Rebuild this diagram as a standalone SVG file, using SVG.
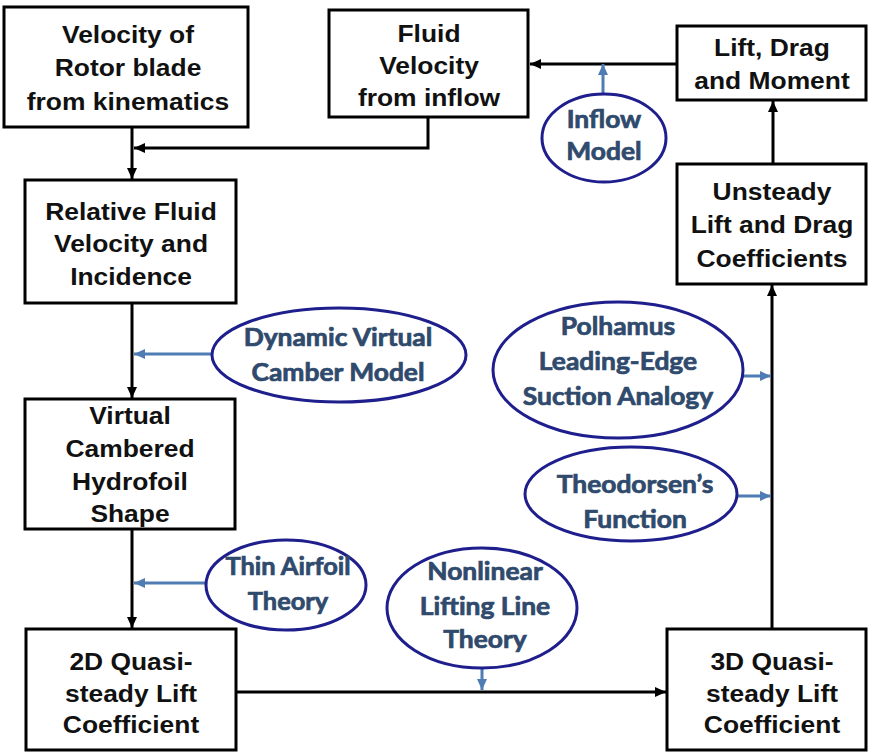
<svg xmlns="http://www.w3.org/2000/svg" width="870" height="753" viewBox="0 0 870 753">
<style>
.box{fill:#fff;stroke:#000;stroke-width:3}
.ell{fill:#fff;stroke:#1e1e8c;stroke-width:3}
.t{font-family:"Liberation Sans",Arial,sans-serif;font-weight:bold;font-size:24px;fill:#111;text-anchor:middle}
.b{font-family:Lato,"Open Sans",sans-serif;font-weight:bold;font-size:24px;fill:#2f4a6c;stroke:#2f4a6c;stroke-width:0.7;text-anchor:middle}
.k{fill:none;stroke:#000;stroke-width:3}
.u{fill:none;stroke:#4f7db3;stroke-width:3}
</style>
<defs>
<marker id="ak" markerUnits="userSpaceOnUse" markerWidth="12" markerHeight="12" viewBox="0 0 12 12" refX="11" refY="6" orient="auto"><path d="M0,1 L11,6 L0,11 z" fill="#000"/></marker>
<marker id="au" markerUnits="userSpaceOnUse" markerWidth="12" markerHeight="12" viewBox="0 0 12 12" refX="11" refY="6" orient="auto"><path d="M0,1 L11,6 L0,11 z" fill="#4f7db3"/></marker>
</defs>
<rect width="870" height="753" fill="#fff"/>
<g id="connectors">
<path class="k" d="M132,127 V179" marker-end="url(#ak)"/>
<path class="k" d="M428,117 V148 H134" marker-end="url(#ak)"/>
<path class="k" d="M677,64 H530" marker-end="url(#ak)"/>
<path class="u" d="M603,94 V64" marker-end="url(#au)"/>
<path class="k" d="M773,164 V101" marker-end="url(#ak)"/>
<path class="k" d="M772,629 V285" marker-end="url(#ak)"/>
<path class="k" d="M132,303 V398" marker-end="url(#ak)"/>
<path class="u" d="M212,354 H134" marker-end="url(#au)"/>
<path class="k" d="M132,529 V628" marker-end="url(#ak)"/>
<path class="u" d="M206,583 H134" marker-end="url(#au)"/>
<path class="k" d="M236,692 H666" marker-end="url(#ak)"/>
<path class="u" d="M482,668 V690" marker-end="url(#au)"/>
<path class="u" d="M743,376 H771" marker-end="url(#au)"/>
<path class="u" d="M737,496 H771" marker-end="url(#au)"/>
</g>
<g id="n-rotor">
<rect class="box" x="4" y="7" width="244" height="120"/>
<g transform="translate(128 0) scale(1.1 1)"><text class="t"><tspan x="0" y="43">Velocity of</tspan><tspan x="0" y="76">Rotor blade</tspan><tspan x="0" y="110">from kinematics</tspan></text></g>
</g>
<g id="n-fluid">
<rect class="box" x="329" y="10" width="199" height="107"/>
<g transform="translate(429 0) scale(1.1 1)"><text class="t"><tspan x="0" y="42">Fluid</tspan><tspan x="0" y="74">Velocity</tspan><tspan x="0" y="106">from inflow</tspan></text></g>
</g>
<g id="n-lift">
<rect class="box" x="677" y="26" width="189" height="74"/>
<g transform="translate(772 0) scale(1.1 1)"><text class="t"><tspan x="0" y="56">Lift, Drag</tspan><tspan x="0" y="89">and Moment</tspan></text></g>
</g>
<g id="n-unsteady">
<rect class="box" x="677" y="164" width="189" height="120"/>
<g transform="translate(772 0) scale(1.1 1)"><text class="t"><tspan x="0" y="200">Unsteady</tspan><tspan x="0" y="233">Lift and Drag</tspan><tspan x="0" y="267">Coefficients</tspan></text></g>
</g>
<g id="n-relative">
<rect class="box" x="25" y="180" width="211" height="123"/>
<g transform="translate(131 0) scale(1.1 1)"><text class="t"><tspan x="0" y="220">Relative Fluid</tspan><tspan x="0" y="252">Velocity and</tspan><tspan x="0" y="285">Incidence</tspan></text></g>
</g>
<g id="n-virtual">
<rect class="box" x="25" y="399" width="210" height="130"/>
<g transform="translate(130 0) scale(1.1 1)"><text class="t"><tspan x="0" y="424">Virtual</tspan><tspan x="0" y="457">Cambered</tspan><tspan x="0" y="490">Hydrofoil</tspan><tspan x="0" y="522">Shape</tspan></text></g>
</g>
<g id="n-2d">
<rect class="box" x="26" y="629" width="210" height="121"/>
<g transform="translate(131 0) scale(1.1 1)"><text class="t"><tspan x="0" y="670">2D Quasi-</tspan><tspan x="0" y="702">steady Lift</tspan><tspan x="0" y="733">Coefficient</tspan></text></g>
</g>
<g id="n-3d">
<rect class="box" x="667" y="629" width="199" height="121"/>
<g transform="translate(772 0) scale(1.1 1)"><text class="t"><tspan x="0" y="670">3D Quasi-</tspan><tspan x="0" y="702">steady Lift</tspan><tspan x="0" y="733">Coefficient</tspan></text></g>
</g>
<g id="e-inflow">
<ellipse class="ell" cx="604" cy="138" rx="62" ry="44"/>
<g transform="translate(604 0) scale(1.1 1)"><text class="b"><tspan x="0" y="128">Inflow</tspan><tspan x="0" y="160">Model</tspan></text></g>
</g>
<g id="e-dvcm">
<ellipse class="ell" cx="339" cy="355" rx="127" ry="47"/>
<g transform="translate(338 0) scale(1.1 1)"><text class="b"><tspan x="0" y="346">Dynamic Virtual</tspan><tspan x="0" y="381">Camber Model</tspan></text></g>
</g>
<g id="e-thin">
<ellipse class="ell" cx="286" cy="585" rx="80" ry="45"/>
<g transform="translate(288 0) scale(1.06 1)"><text class="b"><tspan x="0" y="575">Thin Airfoil</tspan><tspan x="0" y="610">Theory</tspan></text></g>
</g>
<g id="e-nllt">
<ellipse class="ell" cx="482" cy="608" rx="95" ry="60"/>
<g transform="translate(485 0) scale(1.1 1)"><text class="b"><tspan x="0" y="580">Nonlinear</tspan><tspan x="0" y="615">Lifting Line</tspan><tspan x="0" y="648">Theory</tspan></text></g>
</g>
<g id="e-polhamus">
<ellipse class="ell" cx="618" cy="370" rx="125" ry="68"/>
<g transform="translate(618 0) scale(1.1 1)"><text class="b"><tspan x="0" y="335">Polhamus</tspan><tspan x="0" y="370">Leading-Edge</tspan><tspan x="0" y="405">Suction Analogy</tspan></text></g>
</g>
<g id="e-theod">
<ellipse class="ell" cx="631" cy="494" rx="106" ry="47"/>
<g transform="translate(635 0) scale(1.1 1)"><text class="b"><tspan x="0" y="493">Theodorsen’s</tspan><tspan x="0" y="528">Function</tspan></text></g>
</g>
</svg>
